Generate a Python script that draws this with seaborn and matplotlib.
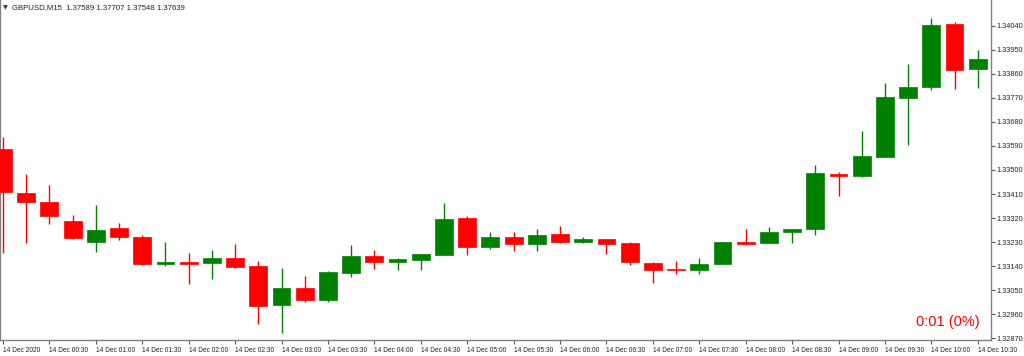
import numpy as np
import pandas as pd
import matplotlib
matplotlib.use("Agg")
import matplotlib.pyplot as plt
import seaborn as sns

# ---- data ----
opens = [1.33579, 1.33415, 1.33379, 1.33309, 1.33229, 1.33282, 1.33249, 1.33149, 1.33156, 1.33153,
         1.33171, 1.33141, 1.32994, 1.33057, 1.33015, 1.33114, 1.33179, 1.33156, 1.33164, 1.33183,
         1.33319, 1.33213, 1.33250, 1.33224, 1.33262, 1.33229, 1.33242, 1.33226, 1.33151, 1.33129,
         1.33126, 1.33149, 1.33230, 1.33226, 1.33267, 1.33278, 1.33486, 1.33476, 1.33550, 1.33768,
         1.33811, 1.34046, 1.33879]
highs = [1.33625, 1.33484, 1.33444, 1.33332, 1.33368, 1.33302, 1.33257, 1.33229, 1.33190, 1.33200,
         1.33223, 1.33158, 1.33132, 1.33103, 1.33122, 1.33218, 1.33199, 1.33169, 1.33184, 1.33376,
         1.33328, 1.33269, 1.33267, 1.33278, 1.33290, 1.33249, 1.33242, 1.33229, 1.33156, 1.33158,
         1.33171, 1.33229, 1.33279, 1.33287, 1.33279, 1.33518, 1.33491, 1.33645, 1.33824, 1.33897,
         1.34069, 1.34055, 1.33949]
lows = [1.33189, 1.33226, 1.33297, 1.33243, 1.33193, 1.33239, 1.33144, 1.33142, 1.33074, 1.33092,
        1.33133, 1.32924, 1.32889, 1.33006, 1.33005, 1.33098, 1.33131, 1.33127, 1.33126, 1.33183,
        1.33183, 1.33204, 1.33196, 1.33196, 1.33227, 1.33227, 1.33186, 1.33144, 1.33078, 1.33111,
        1.33112, 1.33149, 1.33219, 1.33226, 1.33227, 1.33258, 1.33403, 1.33473, 1.33550, 1.33594,
        1.33800, 1.33802, 1.33806]
closes = [1.33419, 1.33379, 1.33327, 1.33244, 1.33274, 1.33248, 1.33149, 1.33157, 1.33149, 1.33171,
          1.33138, 1.32992, 1.33057, 1.33015, 1.33117, 1.33179, 1.33154, 1.33166, 1.33184, 1.33315,
          1.33211, 1.33248, 1.33222, 1.33256, 1.33232, 1.33242, 1.33222, 1.33154, 1.33125, 1.33125,
          1.33149, 1.33229, 1.33224, 1.33267, 1.33279, 1.33489, 1.33479, 1.33552, 1.33772, 1.33811,
          1.34044, 1.33875, 1.33916]
time_labels = ["14 Dec 2020", "14 Dec 00:30", "14 Dec 01:00", "14 Dec 01:30", "14 Dec 02:00",
               "14 Dec 02:30", "14 Dec 03:00", "14 Dec 03:30", "14 Dec 04:00", "14 Dec 04:30",
               "14 Dec 05:00", "14 Dec 05:30", "14 Dec 06:00", "14 Dec 06:30", "14 Dec 07:00",
               "14 Dec 07:30", "14 Dec 08:00", "14 Dec 08:30", "14 Dec 09:00", "14 Dec 09:30",
               "14 Dec 10:00", "14 Dec 10:30"]
price_ticks = [1.32870, 1.32960, 1.33050, 1.33140, 1.33230, 1.33320, 1.33410,
               1.33500, 1.33590, 1.33680, 1.33770, 1.33860, 1.33950, 1.34040]
header_text = "GBPUSD,M15  1.37589 1.37707 1.37548 1.37639"
timer_text = "0:01 (0%)"

UP = "#008000"
DOWN = "#FF0000"

sns.set_theme(style="white")
plt.rcParams['font.family'] = ['Liberation Sans', 'DejaVu Sans']

df = pd.DataFrame({"open": opens, "high": highs, "low": lows, "close": closes})
df["idx"] = np.arange(len(df))
df["dir"] = np.where(df["close"] >= df["open"], "up", "down")
df["bottom"] = df[["open", "close"]].min(axis=1)
df["height"] = (df["close"] - df["open"]).abs().clip(lower=0.00005)

W, H = 1024, 356
fig = plt.figure(figsize=(W / 100, H / 100), dpi=100)
ax = fig.add_axes([0.0, 16 / H, 991 / W, 340 / H])

palette = {"up": UP, "down": DOWN}
colors = df["dir"].map(palette)

ax.vlines(df["idx"], df["low"], df["high"], colors=colors, linewidth=1.0, zorder=2)
ax.bar(df["idx"], df["height"], bottom=df["bottom"], width=0.77,
       color=colors, edgecolor=colors, linewidth=0.5, zorder=3)

ax.set_xlim(-0.13, 42.57)
ax.set_ylim(1.32864, 1.34136)

# right price axis
ax.yaxis.tick_right()
ax.set_yticks(price_ticks)
ax.set_yticklabels([f"{p:.5f}" for p in price_ticks])
ax.tick_params(axis="y", which="major", right=True, left=False, length=3, width=0.8,
               pad=1.2, labelsize=5.3, colors="#555555", labelcolor="#222222")

# time axis
xt = np.arange(0, len(df), 2)
ax.set_xticks(xt)
ax.set_xticklabels(time_labels, ha="left")
ax.tick_params(axis="x", which="major", bottom=True, length=3, width=0.8, pad=2,
               labelsize=4.8, colors="#555555", labelcolor="#222222")
for lab in ax.get_xticklabels():
    lab.set_horizontalalignment("left")

for side in ["left", "right", "bottom"]:
    ax.spines[side].set_color("#808080")
    ax.spines[side].set_linewidth(1.0)
ax.spines["top"].set_visible(False)
ax.grid(False)

# header and timer
fig.text(3 / W, 1 - 8 / H, "\u25BC", fontsize=4.5, color="#333333", va="center", ha="left",
         family=["DejaVu Sans"])
fig.text(12 / W, 1 - 8 / H, header_text, fontsize=5.6, color="#222222", va="center", ha="left")
fig.text(980 / W, 1 - 322 / H, timer_text, fontsize=10.5, color=DOWN, va="center", ha="right")

fig.savefig("out.png", dpi=100, facecolor="white")
